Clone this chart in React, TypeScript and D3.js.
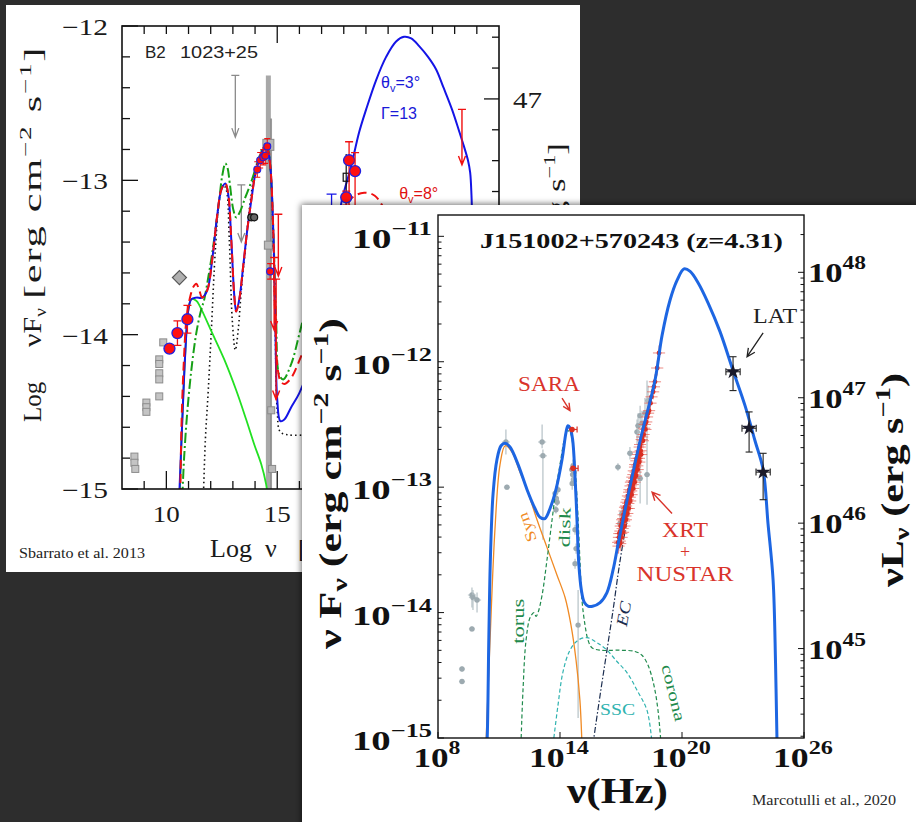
import React from "react";
import * as d3 from "d3";

type P = [number, number];

// ================= Back panel: B2 1023+25 (log nu vs log nuFnu) =================
const backBlue: P[] = [
  [10.58, -15.05], [10.72, -14.55], [10.86, -14.1], [10.99, -13.84], [11.13, -13.77], [11.35, -13.76],
  [11.62, -13.76], [11.85, -13.71], [12.07, -13.51], [12.3, -13.22], [12.48, -13.06], [12.66, -13.02],
  [12.79, -13.09], [12.93, -13.39], [13.06, -13.74], [13.15, -13.85], [13.29, -13.77], [13.47, -13.55],
  [13.65, -13.32], [13.83, -13.13], [14.01, -12.96], [14.19, -12.87], [14.37, -12.8], [14.55, -12.8],
  [14.68, -12.9], [14.82, -13.32], [14.91, -13.9], [15.0, -14.42], [15.14, -14.56], [15.32, -14.55],
  [15.63, -14.47], [15.99, -14.38], [16.44, -14.22], [16.89, -13.97], [17.34, -13.64], [17.7, -13.3],
  [17.93, -13.12], [18.33, -12.91], [18.69, -12.69], [19.01, -12.54], [19.46, -12.35], [19.91, -12.2],
  [20.36, -12.1], [20.72, -12.07], [21.04, -12.08], [21.4, -12.13], [21.8, -12.2], [22.16, -12.28],
  [22.5, -12.4], [22.88, -12.54], [23.2, -12.68], [23.42, -12.78], [23.6, -12.87], [23.7, -12.95],
  [23.76, -13.1], [23.8, -13.3], [23.83, -13.5],
];
const backRed: P[] = [
  [10.63, -15.05], [10.68, -14.6], [10.78, -14.2], [10.92, -13.88], [11.1, -13.74], [11.22, -13.69],
  [11.35, -13.67], [11.48, -13.71], [11.62, -13.76], [11.85, -13.71], [12.07, -13.51], [12.3, -13.22],
  [12.48, -13.06], [12.66, -13.02], [12.79, -13.09], [12.93, -13.39], [13.06, -13.74], [13.15, -13.85],
  [13.29, -13.77], [13.47, -13.55], [13.65, -13.32], [13.83, -13.13], [14.01, -12.96], [14.19, -12.87],
  [14.37, -12.8], [14.55, -12.8], [14.68, -12.9], [14.82, -13.32], [14.91, -13.9], [15.02, -14.22],
  [15.15, -14.3], [15.32, -14.32], [15.63, -14.28], [15.99, -14.17], [16.44, -14.0], [16.9, -13.75],
  [17.4, -13.45], [17.9, -13.22], [18.4, -13.11], [18.92, -13.08], [19.4, -13.1], [19.8, -13.18],
  [20.3, -13.35], [21.0, -13.6],
];
const backGreenDashDot: P[] = [
  [10.72, -15.05], [10.8, -14.8], [10.95, -14.49], [11.15, -14.2], [11.35, -13.99], [11.55, -13.85],
  [11.71, -13.77], [11.9, -13.62], [12.07, -13.47], [12.25, -13.28], [12.39, -13.12], [12.52, -12.97],
  [12.66, -12.89], [12.76, -12.92], [12.86, -13.02], [13.02, -13.19], [13.15, -13.24], [13.33, -13.2],
  [13.56, -13.11], [13.78, -13.03], [14.01, -12.93], [14.19, -12.85], [14.37, -12.79], [14.55, -12.79],
  [14.68, -12.9], [14.82, -13.32], [14.95, -13.9], [15.09, -14.26], [15.27, -14.29], [15.63, -14.19],
  [15.99, -14.0], [16.5, -13.7],
];
const backGreenSolid: P[] = [
  [10.6, -15.05], [10.72, -14.55], [10.86, -14.1], [10.99, -13.84], [11.13, -13.77], [11.35, -13.78],
  [11.49, -13.81], [12.07, -13.99], [12.61, -14.16], [13.15, -14.36], [13.6, -14.55], [13.96, -14.71],
  [14.28, -14.84], [14.5, -14.97], [14.56, -15.03],
];
const backDotted: P[] = [
  [11.67, -15.05], [11.76, -14.68], [11.89, -14.36], [12.03, -13.97], [12.21, -13.45], [12.39, -13.13],
  [12.57, -13.03], [12.7, -13.06], [12.84, -13.39], [12.97, -13.9], [13.11, -14.1], [13.24, -13.97],
  [13.38, -13.71], [13.56, -13.45], [13.74, -13.19], [13.92, -13.0], [14.1, -12.88], [14.32, -12.82],
  [14.55, -12.82], [14.68, -12.91], [14.82, -13.39], [14.91, -13.97], [15.0, -14.49], [15.14, -14.63],
  [15.54, -14.65], [16.2, -14.65],
];
const backRadioSquares: P[] = [
  [8.56, -14.79], [8.56, -14.83], [8.6, -14.87], [9.1, -14.44], [9.1, -14.47], [9.1, -14.5],
  [9.68, -14.16], [9.68, -14.19], [9.68, -14.25], [9.68, -14.29], [9.68, -14.4], [9.86, -14.05],
];
const backDiamond: P[] = [[10.59, -13.63]];
const backBigRed: P[] = [[10.14, -14.09], [10.5, -13.99], [10.95, -13.9], [18.24, -12.87], [18.51, -12.94], [18.11, -13.11]];
const backBigRedErrUp = [0.0, 0.08, 0.09, 0.12, 0.12, 0.04];
const backBigRedErrDown = [0.0, 0.08, 0.09, 0.4, 0.4, 0.05];
const backBigRedXErr = [0.0, 0.2, 0.0, 0.0, 0.0, 0.0];
const backSmallRed: P[] = [[14.1, -12.93], [14.23, -12.87], [14.37, -12.85], [14.46, -12.84], [14.55, -12.78], [14.68, -13.59]];
const backBlackCircles: P[] = [[13.83, -13.24], [13.96, -13.24]];
// [log nu, top, arrow tip]
const backGreyLimits: [number, number, number][] = [[13.11, -12.32, -12.72], [13.38, -13.03, -13.4]];
const backRedLimits: [number, number, number][] = [[15.05, -13.22, -13.62], [14.86, -13.5, -13.97], [14.95, -13.64, -14.42], [23.33, -12.54, -12.9]];
const backGreyBands: [number, number, number][] = [[14.6, -12.32, -15], [14.72, -12.6, -15]];
const backBandSquares: P[] = [[14.6, -12.77], [14.6, -13.42], [14.73, -14.49], [14.77, -14.87]];
const backBandSquareSize = [11, 8, 7, 7];
const backBlackSquare: P[] = [[18.11, -12.98]];
const backBlueLimit: P[] = [[17.45, -13.09]];

const backYTicks = d3.range(0, 16).map((i) => -15 + i * 0.2);
const backYLabels = [-15, -14, -13, -12];
const backXTicks = d3.range(9, 25);
const backXLabels = [10, 15, 20];
const backRTicks = d3.range(0, 15).map((i) => 44.6 + i * 0.2);
const backRLabels = [47];

// ================= Front panel: J151002+570243 =================
const frontSED: P[] = [
  [10.38, -15.1], [10.42, -15.0], [10.5, -14.2], [10.58, -13.55], [10.71, -13.05], [10.9, -12.78],
  [11.1, -12.67], [11.3, -12.65], [11.54, -12.68], [11.94, -12.82], [12.38, -13.02], [12.77, -13.17],
  [13.02, -13.24], [13.26, -13.25], [13.51, -13.17], [13.8, -13.02], [14.1, -12.78], [14.3, -12.56],
  [14.39, -12.51], [14.5, -12.53], [14.62, -12.62], [14.74, -12.92], [14.84, -13.28], [14.92, -13.6],
  [15.05, -13.82], [15.2, -13.92], [15.4, -13.95], [15.6, -13.95], [15.97, -13.92], [16.31, -13.84],
  [16.61, -13.66], [16.85, -13.46], [17.2, -13.18], [17.94, -12.63], [18.67, -12.15], [19.02, -11.79],
  [19.41, -11.51], [19.76, -11.35], [20.1, -11.26], [20.4, -11.28], [20.79, -11.37], [21.28, -11.53],
  [21.87, -11.76], [22.51, -12.07], [23.1, -12.35], [23.59, -12.63], [23.99, -12.86], [24.23, -13.29],
  [24.48, -13.74], [24.6, -14.4], [24.67, -15.0], [24.7, -15.1],
];
const frontSyn: P[] = [
  [10.36, -15.05], [10.56, -14.22], [10.8, -13.34], [11.05, -12.82], [11.3, -12.67], [11.64, -12.72],
  [12.03, -12.88], [12.38, -13.02], [12.87, -13.26], [13.36, -13.48], [13.85, -13.7], [14.25, -13.88],
  [14.54, -14.1], [14.79, -14.38], [14.98, -14.7], [15.08, -15.05],
];
const frontTorusDiskCorona: P[] = [
  [12.08, -15.05], [12.18, -14.62], [12.33, -14.22], [12.53, -14.04], [12.72, -14.0], [12.82, -14.03],
  [12.92, -14.0], [13.12, -13.86], [13.36, -13.58], [13.61, -13.26], [13.8, -13.02], [14.0, -12.82],
  [14.2, -12.63], [14.35, -12.55], [14.49, -12.56], [14.69, -12.75], [14.84, -13.1], [14.98, -13.58],
  [15.08, -13.9], [15.23, -14.1], [15.38, -14.22], [15.57, -14.28], [15.97, -14.3], [16.95, -14.3],
  [17.69, -14.31], [18.03, -14.34], [18.33, -14.42], [18.62, -14.58], [18.82, -14.78], [18.97, -15.05],
];
const frontSSC: P[] = [
  [13.66, -15.05], [13.9, -14.74], [14.15, -14.47], [14.49, -14.3], [14.89, -14.22], [15.33, -14.2],
  [15.82, -14.24], [16.31, -14.3], [16.8, -14.39], [17.3, -14.48], [17.79, -14.62], [18.28, -14.78],
  [18.53, -15.05],
];
const frontEC: P[] = [
  [15.62, -15.05], [15.97, -14.66], [16.31, -14.3], [16.61, -13.98], [16.85, -13.7], [17.05, -13.49],
  [17.44, -13.14], [17.94, -12.7], [18.67, -12.18],
];
// [log nu, log F, xerr, errUp, errDown]
const frontArchival: [number, number, number, number, number][] = [
  [9.18, -14.45, 0.15, 0.02, 0.02], [9.18, -14.55, 0.15, 0.02, 0.02], [9.67, -13.86, 0.2, 0.06, 0.1],
  [9.72, -13.88, 0.2, 0.06, 0.1], [9.92, -13.9, 0.2, 0.06, 0.1], [9.67, -14.13, 0.15, 0.02, 0.02],
  [11.34, -12.64, 0.2, 0.1, 0.1], [11.39, -13.0, 0.15, 0.02, 0.02], [13.12, -12.64, 0.2, 0.14, 0.05],
  [13.16, -12.75, 0.2, 0.05, 0.67], [13.76, -13.05, 0.12, 0.03, 0.03], [13.82, -13.09, 0.12, 0.03, 0.03],
  [13.86, -13.12, 0.12, 0.03, 0.03], [13.8, -13.18, 0.12, 0.03, 0.03], [13.9, -13.02, 0.12, 0.03, 0.03],
  [14.58, -12.86, 0.1, 0.05, 0.05], [14.62, -12.9, 0.1, 0.05, 0.05], [14.66, -12.94, 0.1, 0.05, 0.05],
  [14.6, -12.97, 0.1, 0.05, 0.05], [14.7, -12.88, 0.1, 0.05, 0.05], [14.64, -12.83, 0.1, 0.05, 0.05],
  [14.74, -13.34, 0.1, 0.04, 0.04], [14.79, -13.49, 0.1, 0.04, 0.04], [14.74, -13.61, 0.1, 0.04, 0.04],
  [14.89, -14.1, 0.1, 0.28, 0.74], [16.85, -12.84, 0.15, 0.03, 0.03], [16.95, -13.29, 0.15, 0.08, 0.08],
  [17.05, -13.21, 0.15, 0.06, 0.06], [17.44, -12.73, 0.15, 0.05, 0.05], [17.79, -12.56, 0.15, 0.1, 0.1],
  [17.84, -12.51, 0.15, 0.1, 0.1], [17.94, -12.43, 0.15, 0.08, 0.08], [18.03, -12.49, 0.15, 0.1, 0.1],
  [18.18, -12.41, 0.15, 0.12, 0.12], [18.33, -12.31, 0.15, 0.12, 0.12], [17.94, -12.93, 0.15, 0.33, 0.2],
  [18.28, -12.9, 0.15, 0.75, 0.24],
];
const frontSARA: P[] = [[14.59, -12.54], [14.64, -12.85]];
const frontXrayNu = [
  16.86, 16.9, 16.94, 16.97, 17.01, 17.04, 17.08, 17.11, 17.15, 17.18, 17.22, 17.25, 17.29, 17.32,
  17.36, 17.4, 17.43, 17.47, 17.5, 17.54, 17.58, 17.61, 17.65, 17.69, 17.72, 17.76, 17.8, 17.84,
  17.88, 17.92, 17.97, 18.02, 18.08, 18.14, 18.2, 18.28, 18.38, 18.5, 18.58, 18.67, 18.87,
  16.88, 16.92, 16.96, 16.99, 17.03, 17.06, 17.1, 17.13, 17.17, 17.2, 17.24, 17.27, 17.31, 17.34,
  17.38, 17.42, 17.45, 17.49, 17.52, 17.56, 17.6, 17.63, 17.67, 17.7, 17.74, 17.78, 17.82, 17.86,
  17.9, 17.94, 17.99, 18.04, 18.11, 18.17, 18.24, 18.33, 18.45, 18.62, 18.78,
];
const frontXrayF = [
  -13.44, -13.4, -13.43, -13.35, -13.37, -13.29, -13.33, -13.25, -13.27, -13.19, -13.23, -13.15, -13.17, -13.1,
  -13.13, -13.04, -13.08, -12.99, -13.03, -12.95, -12.98, -12.9, -12.93, -12.84, -12.88, -12.79, -12.83, -12.74,
  -12.77, -12.68, -12.71, -12.62, -12.63, -12.53, -12.54, -12.44, -12.39, -12.28, -12.24, -12.16, -11.93,
  -13.47, -13.37, -13.45, -13.31, -13.4, -13.26, -13.36, -13.22, -13.31, -13.16, -13.26, -13.12, -13.21, -13.07,
  -13.17, -13.02, -13.11, -12.96, -13.06, -12.92, -13.01, -12.87, -12.96, -12.82, -12.91, -12.77, -12.86, -12.72,
  -12.8, -12.66, -12.74, -12.6, -12.58, -12.5, -12.48, -12.41, -12.33, -12.2, -12.05,
];
const frontLAT: P[] = [[22.51, -12.08], [23.3, -12.53], [23.99, -12.88]];
const frontLATErrUp = [0.12, 0.13, 0.15];
const frontLATErrDown = [0.15, 0.19, 0.22];
const frontXMajor = [8, 14, 20, 26];
const frontYMajor = [-15, -14, -13, -12, -11];
const frontRMajor = [45, 46, 47, 48];

const SERIF = "'Liberation Serif', 'Times New Roman', serif";
const SANS = "'Liberation Sans', Arial, sans-serif";

function limitPath(x: number, y1: number, y2: number) {
  return `M${x - 4},${y1}H${x + 4}M${x},${y1}V${y2}M${x - 3.5},${y2 - 9}L${x},${y2}L${x + 3.5},${y2 - 9}`;
}
function arrowPath(x1: number, y1: number, x2: number, y2: number, s = 8) {
  const a = Math.atan2(y2 - y1, x2 - x1);
  const w = 0.45;
  const ax = x2 - s * Math.cos(a - w), ay = y2 - s * Math.sin(a - w);
  const bx = x2 - s * Math.cos(a + w), by = y2 - s * Math.sin(a + w);
  return `M${x1},${y1}L${x2},${y2}M${ax},${ay}L${x2},${y2}L${bx},${by}`;
}

export default function App() {
  const xB = d3.scaleLinear().domain([8, 25]).range([122, 499]);
  const yB = d3.scaleLinear().domain([-15, -12]).range([489, 26]);
  const yBR = d3.scaleLinear().domain([44.4725, 47.4725]).range([489, 26]);
  const xF = d3.scaleLog().domain([1e8, 1e26]).range([438, 804]);
  const yF = d3.scaleLog().domain([1e-15, Math.pow(10, -10.83)]).range([738, 215]);
  const yFR = d3.scaleLog().domain([Math.pow(10, 44.287), Math.pow(10, 48.457)]).range([738, 215]);
  const fx = (v: number) => xF(Math.pow(10, v));
  const fy = (v: number) => yF(Math.pow(10, v));

  const lineB = d3.line<P>().x((d) => xB(d[0])).y((d) => yB(d[1])).curve(d3.curveCatmullRom.alpha(0.5));
  const lineF = d3.line<P>().x((d) => fx(d[0])).y((d) => fy(d[1])).curve(d3.curveCatmullRom.alpha(0.5));

  const isInt = (v: number) => Math.abs(v - Math.round(v)) < 1e-6;
  const leftFTicks = yF.ticks();
  const rightFTicks = yFR.ticks();
  const star = d3.symbol().type(d3.symbolStar).size(70)();

  const bx0 = xB(8), bx1 = xB(25), by0 = yB(-15), by1 = yB(-12);
  const fx0 = 438, fx1 = 804, fy0 = 738, fy1 = 215;

  return (
    <svg width={916} height={822} style={{ position: "absolute", left: 0, top: 0 }} xmlns="http://www.w3.org/2000/svg">
      <defs>
        <clipPath id="clipB"><rect x={bx0} y={by1} width={bx1 - bx0} height={by0 - by1} /></clipPath>
        <clipPath id="clipF"><rect x={fx0} y={fy1} width={fx1 - fx0} height={fy0 - fy1} /></clipPath>
        <filter id="shadow" x="-5%" y="-5%" width="110%" height="110%">
          <feDropShadow dx="-1" dy="-1" stdDeviation="3" floodColor="#000" floodOpacity="0.55" />
        </filter>
      </defs>
      <rect x={0} y={0} width={916} height={822} fill="#2d2d2d" />

      {/* ============ BACK PANEL ============ */}
      <rect x={6} y={5} width={574} height={567} fill="#ffffff" />
      <g fontFamily={SERIF} fill="#1a1a1a">
        {backYTicks.map((v, i) => (
          <line key={"byt" + i} x1={bx0} x2={bx0 + (isInt(v) ? 16 : 8)} y1={yB(v)} y2={yB(v)} stroke="#111" strokeWidth={1.3} />
        ))}
        {backXTicks.map((v) => (
          <line key={"bxb" + v} x1={xB(v)} x2={xB(v)} y1={by0} y2={by0 - (v % 5 === 0 ? 18 : 8)} stroke="#111" strokeWidth={1.3} />
        ))}
        {backXTicks.map((v) => (
          <line key={"bxt" + v} x1={xB(v)} x2={xB(v)} y1={by1} y2={by1 + (v === 15 ? 17 : 8)} stroke="#111" strokeWidth={1.3} />
        ))}
        {backRTicks.map((v, i) => (
          <line key={"brt" + i} x1={bx1} x2={bx1 - (isInt(v) ? 15 : 7)} y1={yBR(v)} y2={yBR(v)} stroke="#111" strokeWidth={1.3} />
        ))}
        {backYLabels.map((v) => (
          <text key={"byl" + v} x={108} y={yB(v) + 9} textAnchor="end" fontSize={23} textLength={46} lengthAdjust="spacingAndGlyphs">
            {"\u2212" + Math.abs(v)}
          </text>
        ))}
        {backXLabels.map((v) => (
          <text key={"bxl" + v} x={xB(v)} y={522} textAnchor="middle" fontSize={23} textLength={27} lengthAdjust="spacingAndGlyphs">{v}</text>
        ))}
        {backRLabels.map((v) => (
          <text key={"brl" + v} x={513} y={yBR(v) + 9} fontSize={23} textLength={29} lengthAdjust="spacingAndGlyphs">{v}</text>
        ))}
        <text transform="translate(41,422) rotate(-90)" fontSize={25}>Log</text>
        <text transform="translate(41,347) rotate(-90) scale(1.2,1)" fontSize={25}>
          {"\u03bdF"}<tspan fontSize={16} dy={5}>{"\u03bd"}</tspan>
        </text>
        <text transform="translate(41,299) rotate(-90) scale(1.7,1)" fontSize={25} letterSpacing={1}>
          {"[erg cm"}<tspan fontSize={16} dy={-10}>{"\u22122"}</tspan><tspan dy={10}>{" s"}</tspan>
          <tspan fontSize={16} dy={-10}>{"\u22121"}</tspan><tspan dy={10}>{"]"}</tspan>
        </text>
        <text transform="translate(565,143) rotate(-90) scale(1.4,1)" fontSize={25} textAnchor="end">
          {"Log \u03bdL"}<tspan fontSize={16} dy={5}>{"\u03bd"}</tspan><tspan dy={-5}>{" [erg s"}</tspan>
          <tspan fontSize={16} dy={-10}>{"\u22121"}</tspan><tspan dy={10}>{"]"}</tspan>
        </text>
        <text x={210} y={557} fontSize={26}>Log</text>
        <text x={265} y={557} fontSize={26}>{"\u03bd"}</text>
        <text x={298} y={557} fontSize={26}>[Hz]</text>
        <text x={19} y={558} fontSize={15} textLength={126} lengthAdjust="spacingAndGlyphs" fill="#222">Sbarrato et al. 2013</text>
        <text x={145} y={58} fontFamily={SANS} fontSize={17} fill="#222">B2</text>
        <text x={180} y={58} fontFamily={SANS} fontSize={17} fill="#222" textLength={78} lengthAdjust="spacingAndGlyphs">1023+25</text>
        <text x={xB(19.68)} y={yB(-12.4)} fontFamily={SANS} fontSize={16} fill="#1a1ad8">
          {"\u03b8"}<tspan fontSize={11} dy={4}>v</tspan><tspan dy={-4}>{"=3\u00b0"}</tspan>
        </text>
        <text x={xB(19.68)} y={yB(-12.6)} fontFamily={SANS} fontSize={16} fill="#1a1ad8">{"\u0393=13"}</text>
        <text x={xB(20.5)} y={yB(-13.12)} fontFamily={SANS} fontSize={16} fill="#e01010">
          {"\u03b8"}<tspan fontSize={11} dy={4}>v</tspan><tspan dy={-4}>{"=8\u00b0"}</tspan>
        </text>
      </g>

      <g clipPath="url(#clipB)">
        {backGreyBands.map((b, i) => (
          <line key={"gb" + i} x1={xB(b[0])} x2={xB(b[0])} y1={yB(b[1])} y2={yB(b[2])} stroke={i === 0 ? "#9a9a9a" : "#8a8a8a"} strokeWidth={i === 0 ? 5 : 2} opacity={0.85} />
        ))}
        {backBandSquares.map((p, i) => (
          <rect key={"bs" + i} x={xB(p[0]) - backBandSquareSize[i] / 2} y={yB(p[1]) - backBandSquareSize[i] / 2} width={backBandSquareSize[i]} height={backBandSquareSize[i]} fill="#b8b8b8" stroke="#8a8a8a" strokeWidth={1} />
        ))}
        {backGreyLimits.map((l, i) => (
          <path key={"gl" + i} d={limitPath(xB(l[0]), yB(l[1]), yB(l[2]))} stroke="#8a8a8a" strokeWidth={1.3} fill="none" />
        ))}
        {backRadioSquares.map((p, i) => (
          <rect key={"rs" + i} x={xB(p[0]) - 3.5} y={yB(p[1]) - 3.5} width={7} height={7} fill="#c4c4c4" stroke="#8c8c8c" strokeWidth={1} />
        ))}
        {backDiamond.map((p, i) => (
          <path key={"dm" + i} d={`M${xB(p[0])},${yB(p[1]) - 7}l7,7l-7,7l-7,-7z`} fill="#b0b0b0" stroke="#555" strokeWidth={1.2} />
        ))}
        <path d={lineB(backDotted) || ""} fill="none" stroke="#111" strokeWidth={1.6} strokeDasharray="1.5,3" />
        <path d={lineB(backGreenSolid) || ""} fill="none" stroke="#22e022" strokeWidth={1.8} />
        <path d={lineB(backGreenDashDot) || ""} fill="none" stroke="#16a016" strokeWidth={2} strokeDasharray="10,3,2,3" />
        <path d={lineB(backBlue) || ""} fill="none" stroke="#1414e6" strokeWidth={2} />
        <path d={lineB(backRed) || ""} fill="none" stroke="#f01010" strokeWidth={2} strokeDasharray="9,5" />
        {backBlackCircles.map((p, i) => (
          <circle key={"bc" + i} cx={xB(p[0])} cy={yB(p[1])} r={3.5} fill="#666" stroke="#111" strokeWidth={1.2} />
        ))}
        {backRedLimits.map((l, i) => (
          <path key={"rl" + i} d={limitPath(xB(l[0]), yB(l[1]), yB(l[2]))} stroke="#f01010" strokeWidth={1.4} fill="none" />
        ))}
        {backBlueLimit.map((p, i) => (
          <path key={"bl" + i} d={`M${xB(p[0]) - 5},${yB(p[1])}H${xB(p[0]) + 5}M${xB(p[0])},${yB(p[1])}V${yB(p[1]) + 20}`} stroke="#1414e6" strokeWidth={1.3} fill="none" />
        ))}
        {backBlackSquare.map((p, i) => (
          <g key={"bsq" + i}>
            <line x1={xB(p[0])} x2={xB(p[0])} y1={yB(p[1] + 0.15)} y2={yB(p[1] - 0.2)} stroke="#111" strokeWidth={1.2} />
            <rect x={xB(p[0]) - 3} y={yB(p[1]) - 4} width={6} height={8} fill="none" stroke="#111" strokeWidth={1.2} />
          </g>
        ))}
        {backBigRed.map((p, i) => {
          const cx = xB(p[0]), cy = yB(p[1]);
          const up = yB(p[1] + backBigRedErrUp[i]), dn = yB(p[1] - backBigRedErrDown[i]);
          const xe = backBigRedXErr[i];
          return (
            <g key={"br" + i}>
              {backBigRedErrUp[i] > 0 && (
                <path d={`M${cx},${up}V${dn}M${cx - 4},${up}H${cx + 4}M${cx - 4},${dn}H${cx + 4}`} stroke="#f01010" strokeWidth={1.3} fill="none" />
              )}
              {xe > 0 && <line x1={xB(p[0] - xe)} x2={xB(p[0] + xe)} y1={cy} y2={cy} stroke="#f01010" strokeWidth={1.3} />}
              <circle cx={cx} cy={cy} r={5.5} fill="#ff1010" stroke="#2020e0" strokeWidth={1.3} />
            </g>
          );
        })}
        {backSmallRed.map((p, i) => {
          const cx = xB(p[0]), cy = yB(p[1]);
          return (
            <g key={"sr" + i}>
              <path d={`M${cx},${yB(p[1] + 0.05)}V${yB(p[1] - 0.05)}M${cx - 3},${yB(p[1] + 0.05)}H${cx + 3}M${cx - 3},${yB(p[1] - 0.05)}H${cx + 3}`} stroke="#f01010" strokeWidth={1.1} fill="none" />
              <circle cx={cx} cy={cy} r={3.5} fill="#ff1010" stroke="#2020e0" strokeWidth={1.1} />
            </g>
          );
        })}
      </g>
      <rect x={bx0} y={by1} width={bx1 - bx0} height={by0 - by1} fill="none" stroke="#111" strokeWidth={1.6} />

      {/* ============ FRONT PANEL ============ */}
      <rect x={302} y={205} width={630} height={630} fill="#ffffff" filter="url(#shadow)" />
      <g fontFamily={SERIF} fill="#111">
        {leftFTicks.map((t, i) => {
          const maj = isInt(Math.log10(t));
          return <line key={"lft" + i} x1={fx0} x2={fx0 + (maj ? 6 : 3.5)} y1={yF(t)} y2={yF(t)} stroke="#111" strokeWidth={1} />;
        })}
        {rightFTicks.map((t, i) => {
          const maj = isInt(Math.log10(t));
          return <line key={"rft" + i} x1={fx1} x2={fx1 - (maj ? 6 : 3.5)} y1={yFR(t)} y2={yFR(t)} stroke="#111" strokeWidth={1} />;
        })}
        {frontXMajor.map((v) => (
          <line key={"fxt" + v} x1={fx(v)} x2={fx(v)} y1={fy0} y2={fy0 - 6} stroke="#111" strokeWidth={1} />
        ))}
        {frontYMajor.map((v) => (
          <text key={"fyl" + v} x={432} y={fy(v) + 12} textAnchor="end" fontSize={28} fontWeight="bold" textLength={80} lengthAdjust="spacingAndGlyphs">
            10<tspan fontSize={19} dy={-13}>{"\u2212" + Math.abs(v)}</tspan>
          </text>
        ))}
        {frontXMajor.map((v) => (
          <text key={"fxl" + v} x={fx(v) - 1} y={767} textAnchor="middle" fontSize={28} fontWeight="bold" textLength={v === 8 ? 47 : 60} lengthAdjust="spacingAndGlyphs">
            10<tspan fontSize={19} dy={-13}>{String(v)}</tspan>
          </text>
        ))}
        {frontRMajor.map((v) => (
          <text key={"frl" + v} x={808} y={yFR(Math.pow(10, v)) + 10} fontSize={28} fontWeight="bold" textLength={58} lengthAdjust="spacingAndGlyphs">
            10<tspan fontSize={19} dy={-13}>{String(v)}</tspan>
          </text>
        ))}
        <text x={480} y={248} fontSize={22} fontWeight="bold" textLength={303} lengthAdjust="spacingAndGlyphs">J151002+570243 (z=4.31)</text>
        <text transform="translate(341,649) rotate(-90)" fontSize={31} fontWeight="bold" textLength={331} lengthAdjust="spacingAndGlyphs">
          {"\u03bd F"}<tspan fontSize={21} dy={6}>{"\u03bd"}</tspan><tspan dy={-6}>{" (erg cm"}</tspan>
          <tspan fontSize={21} dy={-13}>{"\u22122"}</tspan><tspan dy={13}>{" s"}</tspan>
          <tspan fontSize={21} dy={-13}>{"\u22121"}</tspan><tspan dy={13}>{")"}</tspan>
        </text>
        <text transform="translate(903,587) rotate(-90)" fontSize={31} fontWeight="bold" textLength={214} lengthAdjust="spacingAndGlyphs">
          {"\u03bdL"}<tspan fontSize={21} dy={6}>{"\u03bd"}</tspan><tspan dy={-6}>{" (erg s"}</tspan>
          <tspan fontSize={21} dy={-13}>{"\u22121"}</tspan><tspan dy={13}>{")"}</tspan>
        </text>
        <text x={567} y={803} fontSize={36} fontWeight="bold" textLength={101} lengthAdjust="spacingAndGlyphs">{"\u03bd(Hz)"}</text>
        <text x={752} y={805} fontSize={15} fill="#2a2a2a" textLength={144} lengthAdjust="spacingAndGlyphs">Marcotulli et al., 2020</text>
      </g>

      <g clipPath="url(#clipF)">
        {frontArchival.map((d, i) => {
          const cx = fx(d[0]), cy = fy(d[1]);
          return (
            <g key={"ar" + i}>
              <line x1={cx} x2={cx} y1={fy(d[1] + d[3])} y2={fy(d[1] - d[4])} stroke="#b5c1c6" strokeWidth={1.2} />
              <line x1={fx(d[0] - d[2])} x2={fx(d[0] + d[2])} y1={cy} y2={cy} stroke="#c3cdd1" strokeWidth={1.2} />
              <circle cx={cx} cy={cy} r={2.7} fill="#9daab0" />
            </g>
          );
        })}
        <path d={lineF(frontSyn) || ""} fill="none" stroke="#f08a24" strokeWidth={1.3} />
        <path d={lineF(frontTorusDiskCorona) || ""} fill="none" stroke="#1f8a4c" strokeWidth={1.2} strokeDasharray="4,2.5" />
        <path d={lineF(frontSSC) || ""} fill="none" stroke="#30b3b0" strokeWidth={1.2} strokeDasharray="4,2.5" />
        <path d={lineF(frontEC) || ""} fill="none" stroke="#1b2d4f" strokeWidth={1.2} strokeDasharray="6,2,1.5,2" />
        {frontXrayNu.map((v, i) => {
          const cx = fx(v), cy = fy(frontXrayF[i]);
          return (
            <g key={"xr" + i} stroke="#e5635a" strokeWidth={1} opacity={0.75}>
              <line x1={fx(v - 0.3)} x2={fx(v + 0.3)} y1={cy} y2={cy} />
              <line x1={cx} x2={cx} y1={fy(frontXrayF[i] + 0.06)} y2={fy(frontXrayF[i] - 0.06)} />
            </g>
          );
        })}
        {frontXrayNu.map((v, i) => (
          <circle key={"xp" + i} cx={fx(v)} cy={fy(frontXrayF[i])} r={2.4} fill="#d92e22" />
        ))}
        <path d={lineF(frontSED) || ""} fill="none" stroke="#1d66e2" strokeWidth={3} strokeLinejoin="round" />
        {frontSARA.map((p, i) => (
          <g key={"sa" + i}>
            <line x1={fx(p[0] - 0.05)} x2={fx(p[0] + 0.25)} y1={fy(p[1])} y2={fy(p[1])} stroke="#d92e22" strokeWidth={1.2} />
            <line x1={fx(p[0] + 0.25)} x2={fx(p[0] + 0.25)} y1={fy(p[1]) - 3} y2={fy(p[1]) + 3} stroke="#d92e22" strokeWidth={1.2} />
            <circle cx={fx(p[0])} cy={fy(p[1])} r={2.8} fill="#d92e22" />
          </g>
        ))}
        {frontLAT.map((p, i) => {
          const cx = fx(p[0]), cy = fy(p[1]);
          return (
            <g key={"lat" + i} stroke="#222" strokeWidth={1.1}>
              <line x1={cx} x2={cx} y1={fy(p[1] + frontLATErrUp[i])} y2={fy(p[1] - frontLATErrDown[i])} />
              <line x1={fx(p[0] - 0.35)} x2={fx(p[0] + 0.35)} y1={cy} y2={cy} />
              <line x1={cx - 3.5} x2={cx + 3.5} y1={fy(p[1] + frontLATErrUp[i])} y2={fy(p[1] + frontLATErrUp[i])} />
              <line x1={cx - 3.5} x2={cx + 3.5} y1={fy(p[1] - frontLATErrDown[i])} y2={fy(p[1] - frontLATErrDown[i])} />
              <line x1={fx(p[0] - 0.35)} x2={fx(p[0] - 0.35)} y1={cy - 3.5} y2={cy + 3.5} />
              <line x1={fx(p[0] + 0.35)} x2={fx(p[0] + 0.35)} y1={cy - 3.5} y2={cy + 3.5} />
              <path d={star || ""} transform={`translate(${cx},${cy})`} fill="#1a1a2a" stroke="none" />
            </g>
          );
        })}
      </g>

      <g fontFamily={SERIF}>
        <text x={fx(13.46)} y={fy(-12.23)} textAnchor="middle" fontSize={20} fill="#d9342b" textLength={62} lengthAdjust="spacingAndGlyphs">SARA</text>
        <path d={arrowPath(fx(14.1), fy(-12.29), fx(14.49), fy(-12.39), 8)} stroke="#d9342b" strokeWidth={1.4} fill="none" />
        <text x={fx(20.15)} y={fy(-13.4)} textAnchor="middle" fontSize={21} fill="#d9342b" textLength={46} lengthAdjust="spacingAndGlyphs">XRT</text>
        <text x={fx(20.15)} y={fy(-13.58) - 2} textAnchor="middle" fontSize={18} fill="#d9342b">+</text>
        <text x={fx(20.15)} y={fy(-13.74) + 1} textAnchor="middle" fontSize={21} fill="#d9342b" textLength={97} lengthAdjust="spacingAndGlyphs">NUSTAR</text>
        <path d={arrowPath(fx(19.51), fy(-13.21), fx(18.53), fy(-13.04), 9)} stroke="#d9342b" strokeWidth={1.4} fill="none" />
        <text x={fx(24.58)} y={fy(-11.69)} textAnchor="middle" fontSize={20} fill="#222" textLength={44} lengthAdjust="spacingAndGlyphs">LAT</text>
        <path d={arrowPath(fx(23.99), fy(-11.77), fx(23.2), fy(-11.96), 9)} stroke="#222" strokeWidth={1.3} fill="none" />
        <text transform={`translate(${fx(12.38)},${fy(-13.32)}) rotate(-110)`} textAnchor="middle" dy={5} fontSize={15} fill="#f08a24" textLength={30} lengthAdjust="spacingAndGlyphs">Syn</text>
        <text transform={`translate(${fx(14.25)},${fy(-13.32)}) rotate(-88)`} textAnchor="middle" dy={5} fontSize={16} fill="#1f8a4c" textLength={40} lengthAdjust="spacingAndGlyphs">disk</text>
        <text transform={`translate(${fx(11.98)},${fy(-14.07)}) rotate(-90)`} textAnchor="middle" dy={5} fontSize={16} fill="#1f8a4c" textLength={45} lengthAdjust="spacingAndGlyphs">torus</text>
        <text transform={`translate(${fx(17.15)},${fy(-14.01)}) rotate(-80)`} textAnchor="middle" dy={5} fontSize={16} fontStyle="italic" fill="#1b2d4f" textLength={25} lengthAdjust="spacingAndGlyphs">EC</text>
        <text x={fx(15.97)} y={fy(-14.82)} fontSize={16} fill="#30b3b0" textLength={35} lengthAdjust="spacingAndGlyphs">SSC</text>
        <text transform={`translate(${fx(19.56)},${fy(-14.64)}) rotate(76)`} textAnchor="middle" dy={5} fontSize={16} fill="#1f8a4c" textLength={58} lengthAdjust="spacingAndGlyphs">corona</text>
      </g>
      <rect x={fx0} y={fy1} width={fx1 - fx0} height={fy0 - fy1} fill="none" stroke="#111" strokeWidth={1.4} />
    </svg>
  );
}
